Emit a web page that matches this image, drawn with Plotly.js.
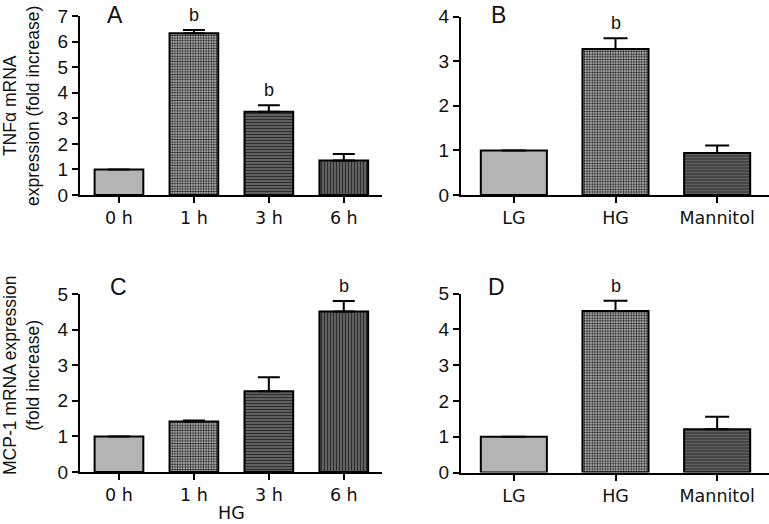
<!DOCTYPE html>
<html>
<head>
<meta charset="utf-8">
<script src="https://cdn.plot.ly/plotly-3.0.1.min.js"></script>
<style>html,body{margin:0;padding:0;background:#fff;}#chart{width:769px;height:524px;}</style>
</head>
<body>
<div id="chart"></div>
<script>
// Data
const timeCats = ['0 h', '1 h', '3 h', '6 h'];
const treatCats = ['LG', 'HG', 'Mannitol'];

const tnfTime = [1.0, 6.33, 3.26, 1.35];
const tnfTimeErr = [null, 0.12, 0.25, 0.25];

const tnfTreat = [1.0, 3.27, 0.94];
const tnfTreatErr = [null, 0.24, 0.17];

const mcpTime = [1.0, 1.42, 2.27, 4.51];
const mcpTimeErr = [null, 0.03, 0.39, 0.29];

const mcpTreat = [1.0, 4.51, 1.21];
const mcpTreatErr = [null, 0.29, 0.35];

const sigTnfTime = ['', 'b', 'b', ''];
const sigTnfTreat = ['', 'b', ''];
const sigMcpTime = ['', '', '', 'b'];
const sigMcpTreat = ['', 'b', ''];

// Styles
const timePattern = {
  shape: ['', '.', '-', '|'],
  fgcolor: ['#b4b4b4', '#1e1e1e', '#2e2e2e', '#2e2e2e'],
  bgcolor: ['#b4b4b4', '#d0d0d0', '#6a6a6a', '#6a6a6a'],
  size: [4, 2.6, 3, 3],
  solidity: [0.3, 0.5, 0.45, 0.45],
  fillmode: 'replace'
};
const treatPattern = {
  shape: ['', '.', '-'],
  fgcolor: ['#b4b4b4', '#1e1e1e', '#2e2e2e'],
  bgcolor: ['#b4b4b4', '#d0d0d0', '#6a6a6a'],
  size: [4, 2.6, 3],
  solidity: [0.3, 0.5, 0.45],
  fillmode: 'replace'
};

function barTrace(x, y, err, pattern, xa, ya, capw) {
  return {
    type: 'bar', x: x, y: y, xaxis: xa, yaxis: ya,
    width: 0.65,
    marker: {color: '#b4b4b4', line: {color: '#000', width: 2}, pattern: pattern},
    error_y: {type: 'data', array: err, arrayminus: err.map(() => 0), symmetric: false,
              color: '#000', thickness: 2, width: capw, visible: true},
    showlegend: false, hoverinfo: 'skip'
  };
}

const data = [
  barTrace(timeCats, tnfTime, tnfTimeErr, timePattern, 'x', 'y', 11),
  barTrace(treatCats, tnfTreat, tnfTreatErr, treatPattern, 'x2', 'y2', 12),
  barTrace(timeCats, mcpTime, mcpTimeErr, timePattern, 'x3', 'y3', 11),
  barTrace(treatCats, mcpTreat, mcpTreatErr, treatPattern, 'x4', 'y4', 12)
];

const W = 769, H = 524;
function xd(a, b) { return [a / W, b / W]; }
function yd(top, bottom) { return [1 - bottom / H, 1 - top / H]; }

const tickFont = {family: 'DejaVu Sans, sans-serif', size: 17.5, color: '#111'};
const yTickFont = {family: 'Liberation Sans, Arial, sans-serif', size: 19, color: '#111'};

function xAxis(dom, anchor, n, extra) {
  return Object.assign({
    domain: dom, anchor: anchor, type: 'category', range: [-0.52, n - 0.49],
    showline: true, linecolor: '#000', linewidth: 2, ticks: 'outside', ticklen: 6,
    tickwidth: 2, tickcolor: '#000', tickfont: tickFont, showgrid: false, zeroline: false,
    fixedrange: true
  }, extra || {});
}
function yAxis(dom, anchor, max) {
  return {
    domain: dom, anchor: anchor, range: [0, max], dtick: 1,
    showline: true, linecolor: '#000', linewidth: 2, ticks: 'outside', ticklen: 6,
    tickwidth: 2, tickcolor: '#000', tickfont: yTickFont, showgrid: false, zeroline: false,
    fixedrange: true
  };
}

const annotations = [];
function sigAnn(cats, vals, errs, sig, xa, ya) {
  cats.forEach((c, i) => {
    if (sig[i]) {
      annotations.push({x: c, y: vals[i] + (errs[i] || 0), xref: xa, yref: ya, text: sig[i],
        showarrow: false, yanchor: 'bottom', yshift: 3,
        font: {family: 'Liberation Sans, Arial, sans-serif', size: 18, color: '#111'}});
    }
  });
}
sigAnn(timeCats, tnfTime, tnfTimeErr, sigTnfTime, 'x', 'y');
sigAnn(treatCats, tnfTreat, tnfTreatErr, sigTnfTreat, 'x2', 'y2');
sigAnn(timeCats, mcpTime, mcpTimeErr, sigMcpTime, 'x3', 'y3');
sigAnn(treatCats, mcpTreat, mcpTreatErr, sigMcpTreat, 'x4', 'y4');

const panelFont = {family: 'Liberation Sans, Arial, sans-serif', size: 23, color: '#111'};
[['A', 115, 15], ['B', 498, 15], ['C', 118, 287], ['D', 496, 287]].forEach(p => {
  annotations.push({text: p[0], x: p[1] / W, y: 1 - p[2] / H, xref: 'paper', yref: 'paper',
    showarrow: false, xanchor: 'center', yanchor: 'middle', font: panelFont});
});

const titleFont = {family: 'Liberation Sans, Arial, sans-serif', size: 17.5, color: '#111'};
annotations.push({text: 'TNFα mRNA<br>expression (fold increase)', textangle: -90,
  x: 21 / W, y: 1 - 106 / H, xref: 'paper', yref: 'paper', showarrow: false,
  xanchor: 'center', yanchor: 'middle', font: titleFont});
annotations.push({text: 'MCP-1 mRNA expression<br>(fold increase)', textangle: -90,
  x: 21 / W, y: 1 - 376 / H, xref: 'paper', yref: 'paper', showarrow: false,
  xanchor: 'center', yanchor: 'middle', font: titleFont});
annotations.push({text: 'HG', x: 231 / W, y: 0, xref: 'paper', yref: 'paper',
  showarrow: false, xanchor: 'center', yanchor: 'bottom', borderpad: 0,
  font: {family: 'DejaVu Sans, sans-serif', size: 17.5, color: '#111'}});

const layout = {
  width: W, height: H, margin: {l: 0, r: 0, t: 0, b: 0},
  paper_bgcolor: '#fff', plot_bgcolor: '#fff',
  bargap: 0.35,
  xaxis: xAxis(xd(80, 382), 'y', 4),
  yaxis: yAxis(yd(16, 195), 'x', 7),
  xaxis2: xAxis(xd(461, 769), 'y2', 3),
  yaxis2: yAxis(yd(16.5, 195), 'x2', 4),
  xaxis3: xAxis(xd(80, 382), 'y3', 4),
  yaxis3: yAxis(yd(294, 472), 'x3', 5),
  xaxis4: xAxis(xd(461, 769), 'y4', 3),
  yaxis4: yAxis(yd(293.5, 472.5), 'x4', 5),
  annotations: annotations
};

Plotly.newPlot('chart', data, layout, {displayModeBar: false, staticPlot: true});
</script>
</body>
</html>
